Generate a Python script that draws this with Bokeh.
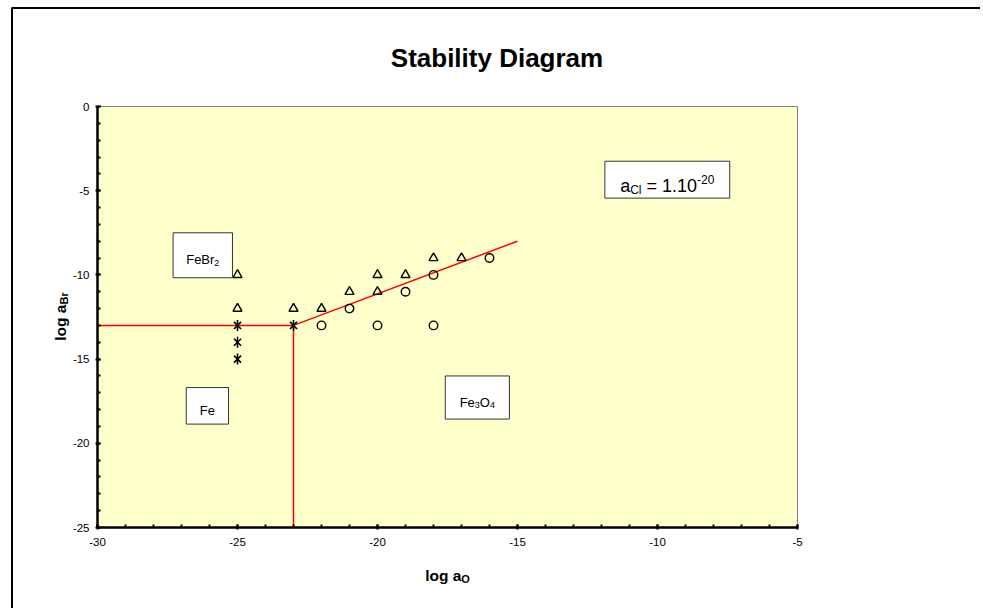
import math
from bokeh.plotting import figure
from bokeh.models import Range1d, FixedTicker, Label, BoxAnnotation
from bokeh.embed import file_html
from bokeh.resources import INLINE

# ---------------- data ----------------
x_ticks = [-30, -25, -20, -15, -10, -5]
y_ticks = [-25, -20, -15, -10, -5, 0]
x_minor = list(range(-30, -4))
y_minor = list(range(-25, 1))
x_limits = (-30, -5)
y_limits = (-25, 0)

tri_x = [-25, -25, -23, -22, -21, -20, -20, -19, -18, -17]
tri_y = [-10, -12, -12, -12, -11, -10, -11, -10, -9, -9]

circ_x = [-22, -21, -20, -19, -18, -18, -16]
circ_y = [-13, -12, -13, -11, -10, -13, -9]

star_x = [-25, -25, -25, -23]
star_y = [-13, -14, -15, -13]

# phase boundaries
bnd_xs = [[-30, -23], [-23, -23], [-23, -15]]
bnd_ys = [[-13, -13], [-13, -25], [-13, -8]]

# ---------------- layout (pixels) ----------------
W, H = 980, 608
PLOT_L, PLOT_R, PLOT_T, PLOT_B = 97, 797, 106, 527
sx = (PLOT_R - PLOT_L) / (x_limits[1] - x_limits[0])
sy = (PLOT_B - PLOT_T) / (y_limits[1] - y_limits[0])
x0 = x_limits[0] - PLOT_L / sx
x1 = x_limits[1] + (W - PLOT_R) / sx
y1 = y_limits[1] + PLOT_T / sy
y0 = y_limits[0] - (H - PLOT_B) / sy


def dx(px):
    return x0 + px / sx


def dy(py):
    return y1 - py / sy


p = figure(width=W, height=H,
           x_range=Range1d(x0, x1), y_range=Range1d(y0, y1),
           output_backend="svg", toolbar_location=None,
           min_border=0, min_border_left=0, min_border_right=0,
           min_border_top=0, min_border_bottom=0,
           background_fill_color="white", border_fill_color="white",
           outline_line_color=None)
p.xgrid.visible = False
p.ygrid.visible = False

# plot area
p.add_layout(BoxAnnotation(left=x_limits[0], right=x_limits[1],
                           bottom=y_limits[0], top=y_limits[1],
                           fill_color="#FFFFCC", fill_alpha=1.0,
                           line_color="#808080", line_width=1, line_alpha=1.0,
                           level="underlay"))
# outer chart border (right/bottom edges lie beyond the window)
p.add_layout(BoxAnnotation(left=dx(11.5), top=dy(7.5), right=dx(1200), bottom=dy(900),
                           fill_color=None, fill_alpha=0, line_color="black",
                           line_width=2, line_alpha=1.0, level="underlay"))

xa, ya = p.xaxis[0], p.yaxis[0]
xa.fixed_location = y_limits[0]
ya.fixed_location = x_limits[0]
xa.bounds = x_limits
ya.bounds = y_limits
xa.ticker = FixedTicker(ticks=x_ticks, minor_ticks=x_minor)
ya.ticker = FixedTicker(ticks=y_ticks, minor_ticks=y_minor)
xa.major_label_overrides = {t: str(t) for t in x_ticks}
ya.major_label_overrides = {t: str(t) for t in y_ticks}
for ax in (xa, ya):
    ax.axis_line_width = 2.5
    ax.axis_line_color = "black"
    ax.major_tick_line_width = 2
    ax.major_tick_line_color = "black"
    ax.major_tick_in = 3
    ax.major_tick_out = 2
    ax.minor_tick_line_width = 2
    ax.minor_tick_line_color = "black"
    ax.minor_tick_in = 3
    ax.minor_tick_out = 0
    ax.major_label_text_font = "Liberation Sans"
    ax.major_label_text_font_size = "11.5px"
    ax.major_label_text_color = "black"
xa.major_label_standoff = 8
ya.major_label_standoff = 6

# boundaries
p.multi_line(xs=bnd_xs, ys=bnd_ys, line_color="#FF0000", line_width=1.5)

# markers
p.scatter(tri_x, tri_y, marker="triangle", size=9, fill_color=None,
          line_color="black", line_width=1.4)
p.scatter(circ_x, circ_y, marker="circle", size=8.5, fill_color=None,
          line_color="black", line_width=1.4)
p.scatter(star_x, star_y, marker="x", size=10, line_color="black", line_width=1.6)
p.scatter(star_x, star_y, marker="dash", size=11, angle=math.pi / 2,
          line_color="black", line_width=1.6)

# ---------------- rich text helper ----------------
REG = {'F': .611, 'e': .556, 'B': .667, 'r': .333, '2': .556, '3': .556, '4': .556,
       'O': .778, 'a': .556, 'C': .722, 'l': .222, ' ': .278, '\u00a0': .278,
       '=': .584, '1': .556, '.': .278, '0': .556, '-': .333}
BOLD = {'l': .278, 'o': .611, 'g': .611, ' ': .278, 'a': .556, 'B': .722, 'r': .389,
        'O': .778, 'S': .667, 't': .333, 'b': .611, 'i': .278, 'y': .556, 'D': .722,
        'm': .889}


def text_w(s, size, bold):
    tbl = BOLD if bold else REG
    return sum(tbl.get(c, 0.556) for c in s) * size


def rich(x, y, segs, angle=0.0, base_dy=0.0):
    total = sum(text_w(t, sz, b) for t, sz, b, d in segs)
    pos = -total / 2
    for t, sz, b, d in segs:
        d = d + base_dy
        if angle == 0:
            xo, yo = pos, d
        else:
            xo, yo = -d, pos
        p.add_layout(Label(x=x, y=y, x_offset=xo, y_offset=yo, text=t, angle=angle,
                           text_font="Liberation Sans", text_font_size=f"{sz}px",
                           text_font_style="bold" if b else "normal",
                           text_align="left", text_baseline="alphabetic",
                           text_color="black"))
        pos += text_w(t, sz, b)


# ---------------- region labels ----------------
region_boxes = [
    dict(l=-27.3, r=-25.18, t=-7.5, b=-10.17,
         segs=[("FeBr", 13, False, 0), ("2", 9, False, -3)]),
    dict(l=-26.83, r=-25.32, t=-16.69, b=-18.86,
         segs=[("Fe", 13, False, 0)]),
    dict(l=-17.58, r=-15.29, t=-16.0, b=-18.56,
         segs=[("Fe", 13, False, 0), ("3", 9, False, -3),
               ("O", 13, False, 0), ("4", 9, False, -3)]),
    dict(l=-11.88, r=-7.42, t=-3.25, b=-5.44,
         segs=[("a", 18, False, 0), ("Cl", 12, False, -4),
               ("\u00a0=\u00a01.10", 18, False, 0), ("-20", 12, False, 7)]),
]
for bx in region_boxes:
    p.add_layout(BoxAnnotation(left=bx["l"], right=bx["r"], top=bx["t"], bottom=bx["b"],
                               fill_color="white", fill_alpha=1.0,
                               line_color="#333333", line_width=1, line_alpha=1.0))
    main = bx["segs"][0][1]
    rich((bx["l"] + bx["r"]) / 2, (bx["t"] + bx["b"]) / 2, bx["segs"],
         base_dy=-0.36 * main)

# ---------------- title and axis titles ----------------
rich(dx(496.5), dy(57), [("Stability Diagram", 26, True, 0)])
rich(dx(447), dy(575), [("log a", 15.5, True, 0), ("O", 11, True, -3.5)])
rich(dx(60), dy(316), [("log a", 15.5, True, 0), ("Br", 11, True, -3.5)], angle=math.pi / 2)

open("out.html", "w").write(file_html(p, INLINE))
